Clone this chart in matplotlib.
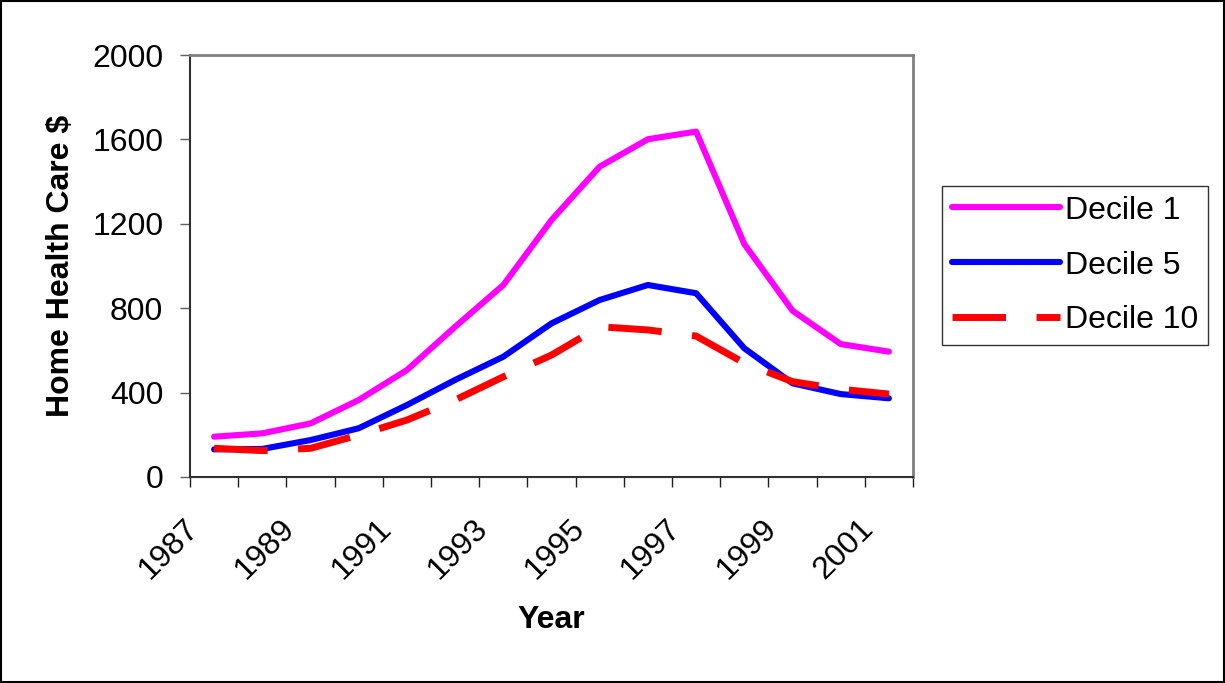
import matplotlib
matplotlib.use("Agg")
import matplotlib.pyplot as plt
from matplotlib.transforms import ScaledTranslation
from matplotlib.patches import Rectangle

plt.rcParams['font.family'] = ['Liberation Sans', 'DejaVu Sans']

years = ['1987', '1988', '1989', '1990', '1991', '1992', '1993', '1994',
         '1995', '1996', '1997', '1998', '1999', '2000', '2001']
decile1 = [191, 207, 254, 365, 507, 712, 910, 1218, 1471, 1601, 1637,
           1104, 788, 630, 594]
decile5 = [131, 133, 175, 231, 341, 460, 570, 728, 839, 910, 871,
           610, 444, 393, 373]
decile10 = [136, 125, 136, 199, 270, 365, 475, 578, 712, 697, 668,
            540, 452, 416, 393]
yticks = [0, 400, 800, 1200, 1600, 2000]

fig = plt.figure(figsize=(12.25, 6.83), dpi=100)
ax = fig.add_axes([190 / 1225, 1 - 477 / 683, (913 - 190) / 1225, (477 - 55) / 683])

x = list(range(len(years)))
ax.plot(x, decile1, color='#ff00ff', lw=4.4, solid_capstyle='round', label='Decile 1')
ax.plot(x, decile5, color='#0000ff', lw=4.4, solid_capstyle='round', label='Decile 5')
ax.plot(x, decile10, color='#ff0000', lw=5.0, dashes=(7.7, 4.4), label='Decile 10')

ax.set_xlim(-0.5, len(years) - 0.5)
ax.set_ylim(0, 2000)
ax.set_yticks(yticks)
ax.tick_params(axis='y', labelsize=23, length=7.2, width=1, color='#606060', pad=12)

# labels every other year, tick marks at category boundaries
ax.set_xticks(x[::2])
ax.set_xticklabels(years[::2], rotation=45, ha='right', va='center',
                   rotation_mode='anchor', fontsize=23)
ax.set_xticks([i - 0.5 for i in range(len(years) + 1)], minor=True)
ax.tick_params(axis='x', which='major', length=0, pad=34)
ax.tick_params(axis='x', which='minor', length=7.5, width=1, color='#202020')
shift = ScaledTranslation(-20 / 100, 0, fig.dpi_scale_trans)
for lab in ax.get_xticklabels():
    lab.set_transform(lab.get_transform() + shift)

for s in ['top', 'right']:
    ax.spines[s].set_color('#808080')
    ax.spines[s].set_linewidth(2)
for s in ['left', 'bottom']:
    ax.spines[s].set_color('#303030')
    ax.spines[s].set_linewidth(1.5)

ax.set_xlabel('Year', fontsize=23, fontweight='bold', labelpad=14)
ax.set_ylabel('Home Health Care $', fontsize=23, fontweight='bold', labelpad=12)

leg = ax.legend(loc='upper left', bbox_to_anchor=(942 / 1225, 1 - 186 / 683),
                bbox_transform=fig.transFigure, fontsize=23, frameon=True,
                fancybox=False, borderaxespad=0, handlelength=3.4,
                handletextpad=0.15, labelspacing=0.78, borderpad=0.3)
leg.get_frame().set_edgecolor('black')
leg.get_frame().set_linewidth(1)

fig.patches.append(Rectangle((0.001, 0.001), 0.998, 0.997, transform=fig.transFigure,
                             fill=False, edgecolor='black', lw=1.5))

fig.savefig('out.png', dpi=100)
